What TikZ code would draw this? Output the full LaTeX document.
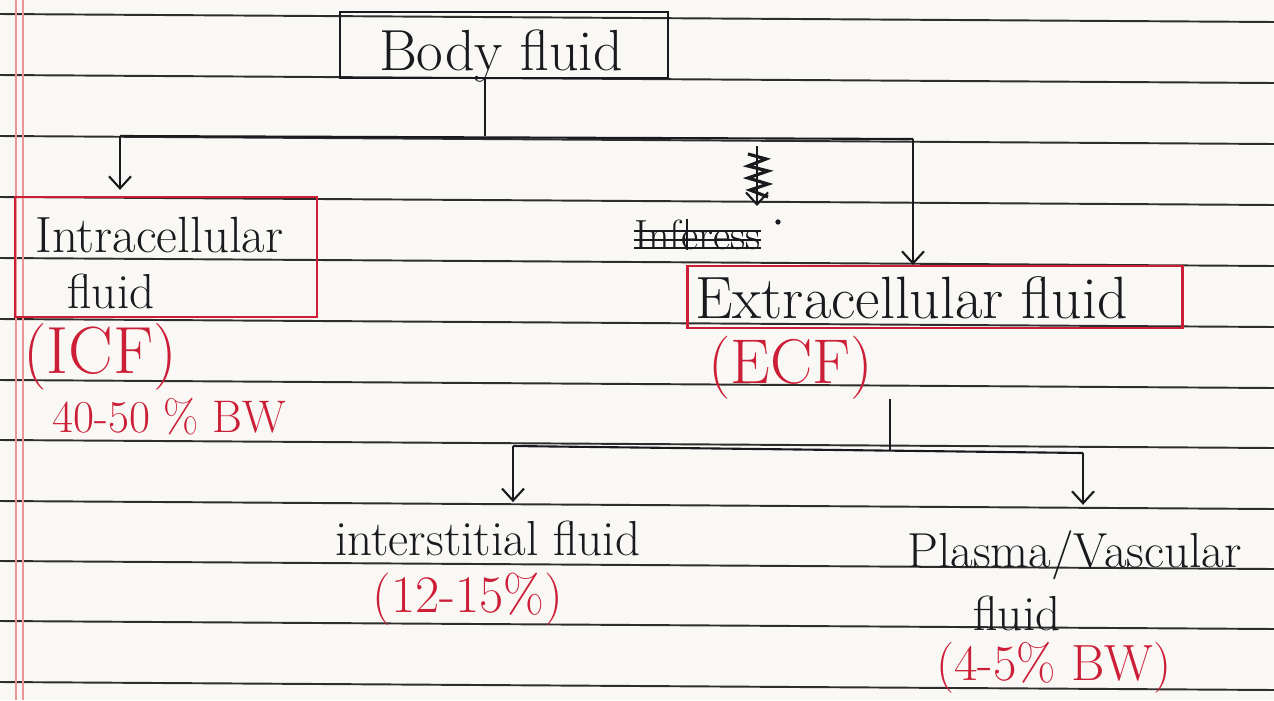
\documentclass[tikz,border=0pt]{standalone}
\usetikzlibrary{arrows.meta}
\definecolor{ink}{RGB}{25,25,30}
\definecolor{redink}{RGB}{205,30,55}
\definecolor{ruleink}{RGB}{45,45,45}
\definecolor{marginred}{RGB}{235,150,150}
\definecolor{paper}{RGB}{249,248,245}
\tikzset{
  hand/.style={text=ink, inner sep=0pt, font=\fontsize{28}{32}\selectfont},
  redhand/.style={hand, text=redink},
  rulerow/.style={draw=ruleink, line width=1.1pt},
  marginrow/.style={draw=marginred, line width=0.9pt},
  wire/.style={draw=ink, line width=1.2pt},
  arr/.style={wire, -{Straight Barb[length=2.4mm,width=4.4mm]}},
  blackbox/.style={draw=ink, line width=1.3pt, inner sep=0pt},
  redbox/.style={draw=redink, line width=1.3pt, inner sep=0pt},
}
\begin{document}
\begin{tikzpicture}[x=0.02cm, y=-0.02cm]
  %%%%% PAGE %%%%%
  \useasboundingbox[fill=paper] (0,0) rectangle (1274,700);
  \foreach \r in {14,75,136,197,258,319,380,440,501,561,621,682}
    \draw[rulerow] (0,\r) -- (1274,\r+8);
  \draw[marginrow] (16,0) -- (16,700);
  \draw[marginrow] (23,0) -- (23,700);

  %%%%% BOXES AND TEXT %%%%%
  \node[blackbox, minimum width=6.56cm, minimum height=1.32cm] (body) at (504,45) {};
  \node[hand, anchor=base, font=\fontsize{33}{36}\selectfont] (bodytxt) at (501,70) {Body fluid};

  \node[redbox, minimum width=6.04cm, minimum height=2.4cm] (icf) at (166,257) {};
  \node[hand, anchor=base west, font=\fontsize{29}{32}\selectfont] (icftxt) at (35,252) {Intracellular};
  \node[hand, anchor=base west] (icftxtb) at (67,308) {fluid};
  \node[redhand, anchor=base west, font=\fontsize{38}{40}\selectfont] (icfabbr) at (23,373) {(ICF)};
  \node[redhand, anchor=base west, font=\fontsize{26}{30}\selectfont] (icfpc) at (52,432) {40-50 \% BW};

  \node[redbox, minimum width=9.9cm, minimum height=1.24cm] (ecf) at (935,297) {};
  \node[hand, anchor=base west, font=\fontsize{34}{36}\selectfont] (ecftxt) at (695,318) {Extracellular fluid};
  \node[redhand, anchor=base west, font=\fontsize{36}{40}\selectfont] (ecfabbr) at (708,383) {(ECF)};

  \node[hand, anchor=base west] (isf) at (335,555) {interstitial fluid};
  \node[redhand, anchor=base west, font=\fontsize{30}{34}\selectfont] (isfpc) at (372,612) {(12-15\%)};
  \node[hand, anchor=base west] (plasma) at (907,567) {Plasma/Vascular};
  \node[hand, anchor=base west] (plasmab) at (973,630) {fluid};
  \node[redhand, anchor=base west, font=\fontsize{29}{32}\selectfont] (plasmapc) at (936,680) {(4-5\% BW)};

  %%%%% CONNECTORS %%%%%
  \coordinate (top) at (485,136);
  \coordinate (topl) at (120,136);
  \coordinate (topr) at (913,139);
  \draw[wire] (body.south -| top) -- (top);
  \draw[wire] (topl) -- (topr);
  \draw[arr, shorten >=0.12cm] (topl) -- (topl |- icf.north);
  \draw[arr] (topr) -- (topr |- ecf.north);

  \coordinate (mid) at (890,450);
  \coordinate (midl) at (513,446);
  \coordinate (midr) at (1083,453);
  \draw[wire] (ecfabbr.south -| mid) -- (mid);
  \draw[wire] (midl) -- (midr);
  \draw[arr, shorten >=0.36cm] (midl) -- (midl |- isf.north);
  \draw[arr, shorten >=0.5cm] (midr) -- (midr |- plasma.north);

  %%%%% CROSSED OUT %%%%%
  \coordinate (xa) at (757,146);
  \coordinate (xb) at (757,206);
  \draw[arr] (xa) -- (xb);
  \draw[wire, line width=1.8pt] (748,154) -- (766,159) -- (748,166) -- (768,171) -- (748,178) -- (768,184) -- (750,190) -- (768,197);
  \node[hand, anchor=base west, font=\fontsize{24}{26}\selectfont] (struck) at (634,249) {Inferess};
  \foreach \d in {-8,-3,2}
    \draw[wire] ([yshift=\d pt]struck.west) -- ([yshift=\d pt]struck.east);
  \draw[wire] ([xshift=30pt]struck.north west) -- ([xshift=30pt]struck.south west);
  \fill[ink] (778,222) circle (1.5pt);
\end{tikzpicture}
\end{document}
